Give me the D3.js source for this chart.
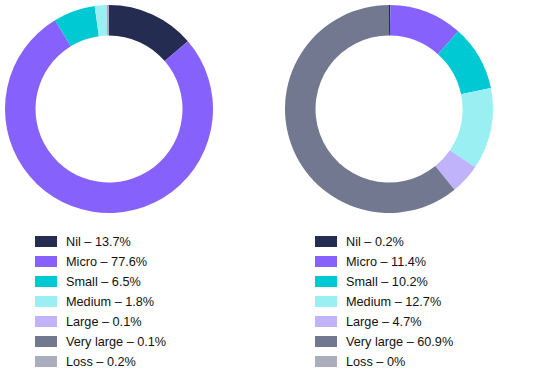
<!DOCTYPE html>
<html><head><meta charset="utf-8">
<script src="https://cdn.jsdelivr.net/npm/d3@7"></script>
<style>body{margin:0;background:#fff}svg{display:block}</style>
</head><body>
<svg id="c" width="540" height="378"></svg>
<script>
const categories = ["Nil","Micro","Small","Medium","Large","Very large","Loss"];
const colors = ["#252c52","#8661fc","#00c9d4","#99eff2","#c0b3fc","#717890","#aaaebc"];
const valuesLeft = [13.7,77.6,6.5,1.8,0.1,0.1,0.2];
const valuesRight = [0.2,11.4,10.2,12.7,4.7,60.9,0];
const labelsLeft = ["13.7%","77.6%","6.5%","1.8%","0.1%","0.1%","0.2%"];
const labelsRight = ["0.2%","11.4%","10.2%","12.7%","4.7%","60.9%","0%"];

const svg = d3.select("#c");
const color = d3.scaleOrdinal().domain(categories).range(colors);
const pie = d3.pie().sort(null).value(d => d.v);
const arc = d3.arc().innerRadius(73.5).outerRadius(104);

function donut(cx, cy, values){
  const data = categories.map((c,i)=>({c, v: values[i]}));
  svg.append("g").attr("transform",`translate(${cx},${cy})`)
    .selectAll("path").data(pie(data)).join("path")
    .attr("d", arc).attr("fill", d => color(d.data.c));
}
function legend(x, y, labels){
  const g = svg.append("g").attr("transform",`translate(${x},${y})`);
  const row = g.selectAll("g").data(categories).join("g")
    .attr("transform",(d,i)=>`translate(0,${i*20})`);
  row.append("rect").attr("width",22).attr("height",11).attr("fill", d=>color(d));
  row.append("text").attr("x",31).attr("y",10)
    .attr("font-family","Liberation Sans, Arial, sans-serif").attr("font-size",12.7)
    .attr("fill","#111")
    .text((d,i)=>`${d} \u2013 ${labels[i]}`);
}
donut(109,109,valuesLeft);
donut(389,109,valuesRight);
legend(35,236,labelsLeft);
legend(315,236,labelsRight);
</script>
</body></html>
